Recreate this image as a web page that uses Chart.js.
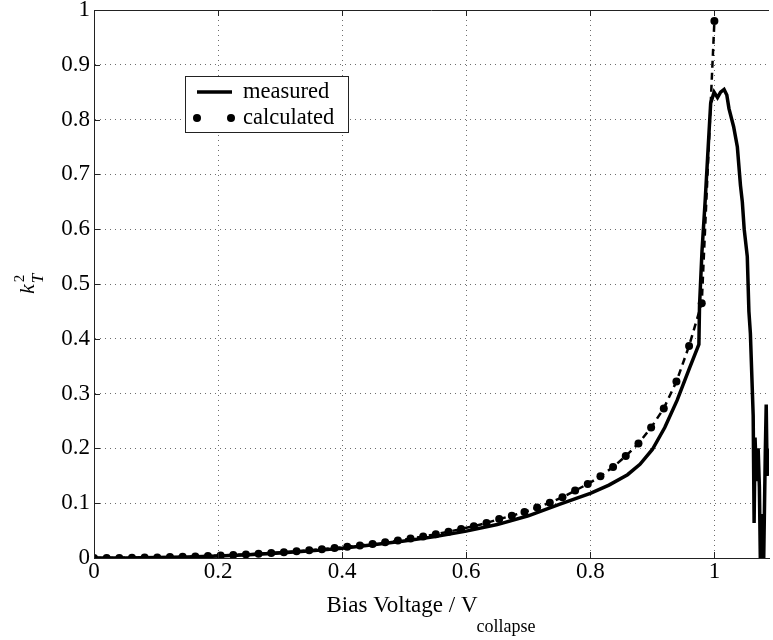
<!DOCTYPE html>
<html><head><meta charset="utf-8">
<script src="https://cdn.jsdelivr.net/npm/chart.js@4"></script>
<style>html,body{margin:0;padding:0;background:#fff;}#wrap{width:773px;height:640px;}</style>
</head><body><div id="wrap"><canvas id="c" width="773" height="640"></canvas></div>
<script>
// ---- data ----
const xTickValues = [0, 0.2, 0.4, 0.6, 0.8, 1];
const yTickValues = [0, 0.1, 0.2, 0.3, 0.4, 0.5, 0.6, 0.7, 0.8, 0.9, 1];
const seriesLabels = ['measured', 'calculated'];
const xTitleMain = 'Bias Voltage / V';
const xTitleSub = 'collapse';
const yTitleMain = 'k';
const yTitleSub = 'T';
const yTitleSup = '2';

const calcX = [0, 0.0204, 0.0408, 0.0612, 0.0816, 0.1020, 0.1224, 0.1429, 0.1633, 0.1837,
  0.2041, 0.2245, 0.2449, 0.2653, 0.2857, 0.3061, 0.3265, 0.3469, 0.3673, 0.3878,
  0.4082, 0.4286, 0.4490, 0.4694, 0.4898, 0.5102, 0.5306, 0.5510, 0.5714, 0.5918,
  0.6122, 0.6327, 0.6531, 0.6735, 0.6939, 0.7143, 0.7347, 0.7551, 0.7755, 0.7959,
  0.8163, 0.8367, 0.8571, 0.8776, 0.8980, 0.9184, 0.9388, 0.9592, 0.9796, 1.0];
const calcY = [0, 0.0001, 0.0002, 0.0004, 0.0007, 0.0011, 0.0016, 0.0021, 0.0028, 0.0036,
  0.0045, 0.0055, 0.0066, 0.0078, 0.0092, 0.0107, 0.0123, 0.0141, 0.0161, 0.0182,
  0.0205, 0.023, 0.0257, 0.0287, 0.0319, 0.0354, 0.0392, 0.0434, 0.048, 0.053,
  0.058, 0.064, 0.071, 0.077, 0.084, 0.092, 0.101, 0.111, 0.123, 0.135,
  0.149, 0.166, 0.186, 0.209, 0.238, 0.273, 0.322, 0.387, 0.465, 0.98];

const measX = [0, 0.05, 0.1, 0.15, 0.2, 0.25, 0.3, 0.35, 0.4, 0.45,
  0.5, 0.55, 0.6, 0.65, 0.7, 0.75, 0.8, 0.83, 0.86, 0.88,
  0.9, 0.92, 0.94, 0.96, 0.975, 0.976, 0.98, 0.985, 0.989, 0.994,
  0.9995, 1.005, 1.01, 1.0156, 1.02, 1.0235, 1.031, 1.037, 1.042, 1.045,
  1.048, 1.053, 1.0556, 1.058, 1.061, 1.0625, 1.064, 1.0655, 1.068, 1.0705,
  1.0725, 1.074, 1.0765, 1.0795, 1.082, 1.0835, 1.085, 1.088];
const measY = [0, 0.0002, 0.0008, 0.0018, 0.0035, 0.006, 0.009, 0.013, 0.018, 0.024,
  0.031, 0.039, 0.049, 0.061, 0.077, 0.098, 0.118, 0.133, 0.152, 0.171,
  0.198, 0.238, 0.288, 0.347, 0.39, 0.46, 0.56, 0.65, 0.73, 0.83,
  0.85, 0.84, 0.85, 0.855, 0.845, 0.82, 0.787, 0.75, 0.68, 0.65,
  0.6, 0.55, 0.45, 0.41, 0.31, 0.26, 0.064, 0.22, 0.14, 0.2,
  0.13, 0.0, 0.08, 0.0, 0.19, 0.28, 0.15, 0.2];

const X_MAX = 1.088;
const FONT = 'Liberation Serif';

const toPts = (xs, ys) => xs.map((x, i) => ({x: x, y: ys[i]}));

const decorPlugin = {
  id: 'decor',
  afterDraw(chart) {
    const ctx = chart.ctx;
    const a = chart.chartArea;
    const xs = chart.scales.x, ys = chart.scales.y;
    ctx.save();
    // top border
    ctx.strokeStyle = '#222';
    ctx.lineWidth = 1;
    ctx.beginPath();
    ctx.moveTo(a.left, a.top + 0.5);
    ctx.lineTo(a.right, a.top + 0.5);
    ctx.stroke();
    // inward ticks
    ctx.beginPath();
    xTickValues.forEach(v => {
      const px = Math.round(xs.getPixelForValue(v)) + 0.5;
      ctx.moveTo(px, a.bottom); ctx.lineTo(px, a.bottom - 6);
      ctx.moveTo(px, a.top); ctx.lineTo(px, a.top + 6);
    });
    yTickValues.forEach(v => {
      const py = Math.round(ys.getPixelForValue(v)) + 0.5;
      ctx.moveTo(a.left, py); ctx.lineTo(a.left + 6, py);
    });
    ctx.stroke();

    // legend
    const ds = chart.data.datasets;
    const bx = 185.5, by = 76.5, bw = 163, bh = 56;
    ctx.fillStyle = '#fff';
    ctx.fillRect(bx, by, bw, bh);
    ctx.strokeStyle = '#222';
    ctx.lineWidth = 1;
    ctx.strokeRect(bx, by, bw, bh);
    ctx.strokeStyle = '#000';
    ctx.lineWidth = 3.5;
    ctx.beginPath(); ctx.moveTo(197, 92); ctx.lineTo(232, 92); ctx.stroke();
    ctx.fillStyle = '#000';
    [197, 231].forEach(cx => { ctx.beginPath(); ctx.arc(cx, 118, 4, 0, Math.PI * 2); ctx.fill(); });
    ctx.font = '22.5px "' + FONT + '"';
    ctx.textAlign = 'left';
    ctx.textBaseline = 'alphabetic';
    ctx.fillText(ds[0].label, 243, 98);
    ctx.fillText(ds[1].label, 243, 124);

    // x title with subscript
    ctx.font = '23px "' + FONT + '"';
    const wMain = ctx.measureText(xTitleMain).width;
    ctx.font = '18px "' + FONT + '"';
    const wSub = ctx.measureText(xTitleSub).width;
    const cx = (a.left + a.right) / 2;
    const startX = cx - (wMain + wSub) / 2;
    ctx.font = '23px "' + FONT + '"';
    ctx.fillText(xTitleMain, startX, 612);
    ctx.font = '18px "' + FONT + '"';
    ctx.fillText(xTitleSub, startX + wMain - 1, 632);

    // y title k_T^2 rotated
    ctx.translate(34, (a.top + a.bottom) / 2);
    ctx.rotate(-Math.PI / 2);
    ctx.font = 'italic 22px "' + FONT + '"';
    const wk = ctx.measureText(yTitleMain).width;
    ctx.fillText(yTitleMain, -10, 0);
    ctx.font = 'italic 17px "' + FONT + '"';
    ctx.fillText(yTitleSub, -10 + wk + 1, 9);
    ctx.font = '15px "' + FONT + '"';
    ctx.fillText(yTitleSup, -10 + wk + 2, -10);
    ctx.restore();
  }
};

const gridStyle = { color: 'rgba(60,60,60,0.75)', lineWidth: 1, drawTicks: false, tickLength: 0 };

new Chart(document.getElementById('c'), {
  type: 'line',
  data: {
    datasets: [
      {
        label: seriesLabels[0],
        data: toPts(measX, measY),
        borderColor: '#000',
        borderWidth: 3.5,
        pointRadius: 0,
        tension: 0,
        fill: false,
        order: 1
      },
      {
        label: seriesLabels[1],
        data: toPts(calcX, calcY),
        borderColor: '#000',
        borderWidth: 2.5,
        borderDash: [7, 5],
        pointRadius: 4,
        pointBackgroundColor: '#000',
        pointBorderColor: '#000',
        pointBorderWidth: 0,
        tension: 0,
        fill: false,
        order: 0
      }
    ]
  },
  options: {
    responsive: false,
    animation: false,
    devicePixelRatio: 1,
    layout: { padding: { top: 10, right: 1, left: 0, bottom: 0 } },
    plugins: { legend: { display: false }, tooltip: { enabled: false } },
    scales: {
      x: {
        type: 'linear',
        min: 0, max: X_MAX,
        afterBuildTicks: s => { s.ticks = xTickValues.map(v => ({value: v})); },
        afterFit: s => { s.height = 82; s.paddingLeft = 0; s.paddingRight = 0; },
        ticks: { font: { family: FONT, size: 23 }, color: '#000', padding: 0, maxRotation: 0, autoSkip: false,
          callback: v => String(v) },
        grid: gridStyle,
        border: { display: true, color: '#222', width: 1, dash: [1, 4] }
      },
      y: {
        type: 'linear',
        min: 0, max: 1,
        afterBuildTicks: s => { s.ticks = yTickValues.map(v => ({value: v})); },
        afterFit: s => { s.width = 94; s.paddingTop = 0; s.paddingBottom = 0; },
        ticks: { font: { family: FONT, size: 23 }, color: '#000', padding: 4, autoSkip: false,
          callback: v => String(v) },
        grid: gridStyle,
        border: { display: true, color: '#222', width: 1, dash: [1, 4] }
      }
    }
  },
  plugins: [decorPlugin]
});
</script>
</body></html>
